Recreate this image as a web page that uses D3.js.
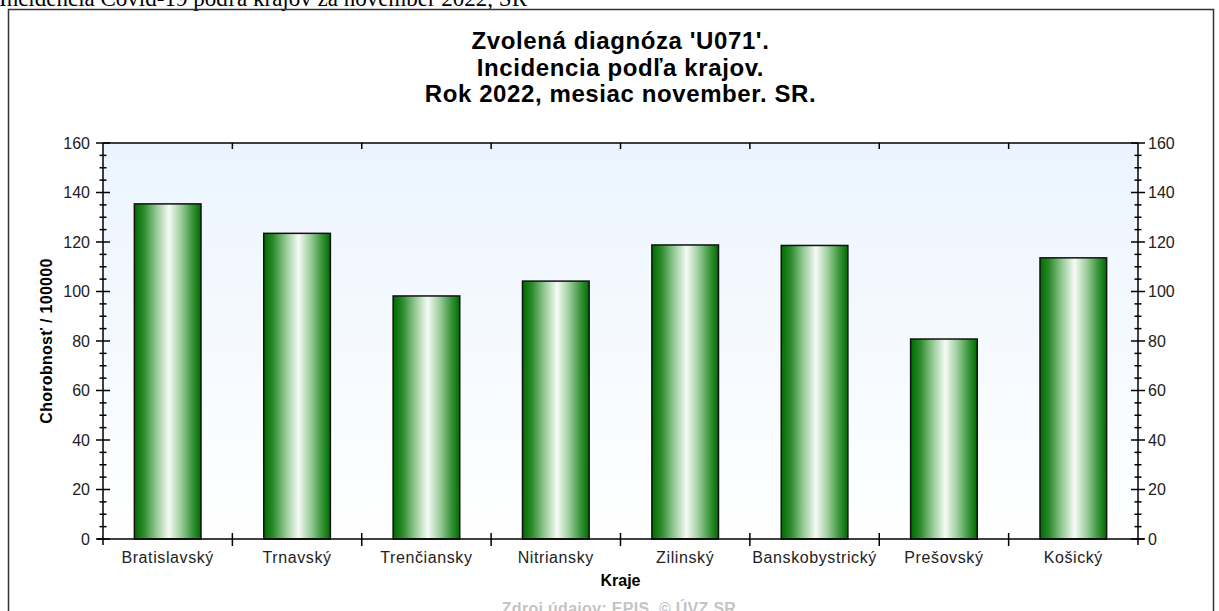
<!DOCTYPE html>
<html><head><meta charset="utf-8">
<script src="https://cdn.jsdelivr.net/npm/d3@7"></script>
<style>html,body{margin:0;padding:0;background:#fff;overflow:hidden}svg{display:block}</style>
</head><body>
<script>
const categories = ["Bratislavský","Trnavský","Trenčiansky","Nitriansky","Zilinský","Banskobystrický","Prešovský","Košický"];
const values = [135.4, 123.5, 98.2, 104.2, 118.8, 118.6, 80.8, 113.6];
const yTicks = [0,20,40,60,80,100,120,140,160];
const titleLines = ["Zvolená diagnóza 'U071'.","Incidencia podľa krajov.","Rok 2022, mesiac november. SR."];
const pageCaption = "Incidencia Covid-19 podľa krajov za november 2022, SR";
const xTitle = "Kraje";
const yTitle = "Chorobnosť / 100000";
const source = "Zdroj údajov: EPIS, © ÚVZ SR";

const W = 1219, H = 611;
const m = {left:103, right:1138, top:143, bottom:539};
const svg = d3.select("body").append("svg").attr("width",W).attr("height",H)
  .style("font-family","'Liberation Sans', Arial, sans-serif");
const defs = svg.append("defs");
const bg = defs.append("linearGradient").attr("id","bg").attr("x1",0).attr("x2",0).attr("y1",0).attr("y2",1);
bg.append("stop").attr("offset","0%").attr("stop-color","#ebf4fe");
bg.append("stop").attr("offset","100%").attr("stop-color","#ffffff");
const bar = defs.append("linearGradient").attr("id","bar").attr("x1",0).attr("x2",1).attr("y1",0).attr("y2",0);
[[0,"#006b00"],[0.14,"#2a8a2a"],[0.33,"#94c994"],[0.52,"#f6fbf6"],[0.7,"#9ccd9c"],[0.87,"#3a953a"],[1,"#006b00"]]
  .forEach(([o,c])=>bar.append("stop").attr("offset",o).attr("stop-color",c));

// page caption (clipped at top, as in the reference)
svg.append("text").attr("x",-1).attr("y",6).attr("font-family","'Liberation Serif','Times New Roman',serif")
  .attr("font-size",23).attr("fill","#000").text(pageCaption);
// outer frame
svg.append("rect").attr("x",8.5).attr("y",9.5).attr("width",1205).attr("height",640)
  .attr("fill","none").attr("stroke","#333").attr("stroke-width",1.5);

const x = d3.scaleBand().domain(categories).range([m.left,m.right]).paddingInner(0.485).paddingOuter(0.2425);
const y = d3.scaleLinear().domain([0,160]).range([m.bottom,m.top]);

svg.append("rect").attr("x",m.left).attr("y",m.top).attr("width",m.right-m.left).attr("height",m.bottom-m.top)
  .attr("fill","url(#bg)");

// title
const tt = svg.append("text").attr("text-anchor","middle").attr("font-weight","bold").attr("font-size",24)
  .attr("letter-spacing",0.6).attr("fill","#000");
titleLines.forEach((t,i)=>tt.append("tspan").attr("x",(m.left+m.right)/2).attr("y",49+i*26.5).text(t));

// bars
svg.selectAll("rect.bar").data(categories).enter().append("rect").attr("class","bar")
  .attr("x",d=>x(d)).attr("width",x.bandwidth())
  .attr("y",(d,i)=>y(values[i])).attr("height",(d,i)=>y(0)-y(values[i]))
  .attr("fill","url(#bar)").attr("stroke","#111").attr("stroke-width",1.5);

// axes lines
const ax = svg.append("g").attr("stroke","#000").attr("stroke-width",1.5);
ax.append("line").attr("x1",m.left).attr("x2",m.right).attr("y1",m.top).attr("y2",m.top);
ax.append("line").attr("x1",m.left-6).attr("x2",m.right+6).attr("y1",m.bottom).attr("y2",m.bottom);
ax.append("line").attr("x1",m.left).attr("x2",m.left).attr("y1",m.top).attr("y2",m.bottom+6);
ax.append("line").attr("x1",m.right).attr("x2",m.right).attr("y1",m.top).attr("y2",m.bottom+6);

// y ticks
const minor = d3.range(0,161,5).filter(v=>v%20!==0);
[m.left,m.right].forEach(px=>{
  ax.selectAll(null).data(yTicks).enter().append("line").attr("x1",px-7).attr("x2",px+7)
    .attr("y1",d=>y(d)).attr("y2",d=>y(d));
  ax.selectAll(null).data(minor).enter().append("line").attr("x1",px-3.5).attr("x2",px+3.5)
    .attr("y1",d=>y(d)).attr("y2",d=>y(d));
});
// x band boundary ticks
const bounds = d3.range(1,categories.length).map(i=>m.left+i*x.step());
ax.selectAll(null).data(bounds).enter().append("line").attr("x1",d=>d).attr("x2",d=>d)
  .attr("y1",m.bottom-6).attr("y2",m.bottom+7);
ax.selectAll(null).data(bounds).enter().append("line").attr("x1",d=>d).attr("x2",d=>d)
  .attr("y1",m.top).attr("y2",m.top+6);

// y tick labels
svg.selectAll(null).data(yTicks).enter().append("text").attr("x",90).attr("y",d=>y(d)+5.5)
  .attr("text-anchor","end").attr("font-size",16).attr("fill","#222").text(d=>d);
svg.selectAll(null).data(yTicks).enter().append("text").attr("x",1148).attr("y",d=>y(d)+5.5)
  .attr("text-anchor","start").attr("font-size",16).attr("fill","#222").text(d=>d);

// x labels
svg.selectAll(null).data(categories).enter().append("text")
  .attr("x",d=>x(d)+x.bandwidth()/2).attr("y",563).attr("text-anchor","middle")
  .attr("font-size",16).attr("letter-spacing",0.6).attr("fill","#222").text(d=>d);

svg.append("text").attr("x",(m.left+m.right)/2).attr("y",586).attr("text-anchor","middle")
  .attr("font-size",16).attr("font-weight","bold").attr("fill","#000").text(xTitle);

svg.append("text").attr("transform",`translate(52,${(m.top+m.bottom)/2}) rotate(-90)`)
  .attr("text-anchor","middle").attr("font-size",16).attr("font-weight","bold").attr("letter-spacing",0.3)
  .attr("fill","#000").text(yTitle);

svg.append("text").attr("x",619).attr("y",614).attr("text-anchor","middle")
  .attr("font-size",16).attr("font-weight","bold").attr("letter-spacing",0.3).attr("fill","#c4c4c4").text(source);
</script>
</body></html>
